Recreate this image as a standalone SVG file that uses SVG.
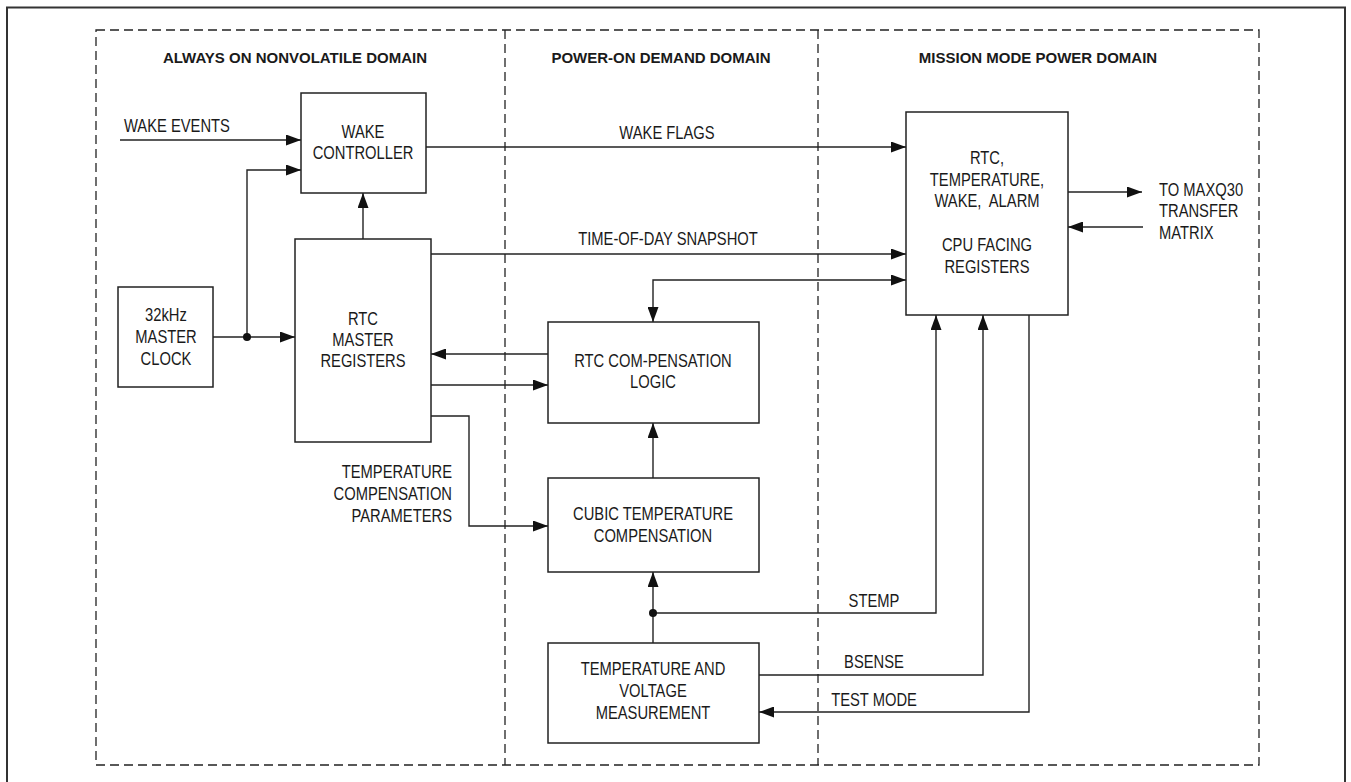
<svg xmlns="http://www.w3.org/2000/svg" width="1351" height="782" viewBox="0 0 1351 782">
<style>
.box{fill:#fff;stroke:#222;stroke-width:1.5}
.ln{fill:none;stroke:#222;stroke-width:1.4}
.dash{fill:none;stroke:#222;stroke-width:1.3;stroke-dasharray:9 5}
.t{font-family:"Liberation Sans",Arial,sans-serif;font-size:18px;fill:#1a1a1a;text-anchor:middle}
.l{font-family:"Liberation Sans",Arial,sans-serif;font-size:18px;fill:#1a1a1a}
.r{font-family:"Liberation Sans",Arial,sans-serif;font-size:18px;fill:#1a1a1a;text-anchor:end}
.h{font-family:"Liberation Sans",Arial,sans-serif;font-size:15px;font-weight:bold;fill:#1a1a1a;text-anchor:middle}
</style>
<defs>
<marker id="arr" markerWidth="15" markerHeight="11" refX="15" refY="5.5" orient="auto-start-reverse" markerUnits="userSpaceOnUse"><path d="M0,0 L15,5.5 L0,11 z" fill="#111"/></marker>
</defs>
<rect width="1351" height="782" fill="#fff"/>
<rect x="7" y="7.5" width="1338" height="790" fill="none" stroke="#333" stroke-width="2"/>
<g id="domains">
<rect class="dash" x="96" y="30" width="1163" height="735"/>
<line class="dash" x1="505" y1="30" x2="505" y2="765"/>
<line class="dash" x1="818" y1="30" x2="818" y2="765"/>
<text class="h" x="295" y="63">ALWAYS ON NONVOLATILE DOMAIN</text>
<text class="h" x="661" y="63">POWER-ON DEMAND DOMAIN</text>
<text class="h" x="1038" y="63">MISSION MODE POWER DOMAIN</text>
</g>
<g id="connectors">
<path class="ln" d="M120,140 H301" marker-end="url(#arr)"/>
<path class="ln" d="M213,337 H295" marker-end="url(#arr)"/>
<path class="ln" d="M247,337 V170 H301" marker-end="url(#arr)"/>
<path class="ln" d="M363,239 V193" marker-end="url(#arr)"/>
<path class="ln" d="M426,147 H906" marker-end="url(#arr)"/>
<path class="ln" d="M431,254 H906" marker-end="url(#arr)"/>
<path class="ln" d="M653,322 V280 H906" marker-start="url(#arr)" marker-end="url(#arr)"/>
<path class="ln" d="M548,354 H431" marker-end="url(#arr)"/>
<path class="ln" d="M431,385 H548" marker-end="url(#arr)"/>
<path class="ln" d="M431,416 H469 V526 H548" marker-end="url(#arr)"/>
<path class="ln" d="M653,478 V423" marker-end="url(#arr)"/>
<path class="ln" d="M653,643 V572" marker-end="url(#arr)"/>
<path class="ln" d="M653,613 H936 V315" marker-end="url(#arr)"/>
<path class="ln" d="M759,675 H983 V315" marker-end="url(#arr)"/>
<path class="ln" d="M1029,315 V712 H759" marker-end="url(#arr)"/>
<path class="ln" d="M1068,192 H1142" marker-end="url(#arr)"/>
<path class="ln" d="M1143,227 H1068" marker-end="url(#arr)"/>
<circle cx="247" cy="337" r="4" fill="#111"/>
<circle cx="653" cy="613" r="4" fill="#111"/>
<text class="l" transform="matrix(0.82 0 0 1 124 0)" x="0" y="132">WAKE EVENTS</text>
<text class="t" transform="matrix(0.82 0 0 1 667 0)" x="0" y="139">WAKE FLAGS</text>
<text class="t" transform="matrix(0.82 0 0 1 668 0)" x="0" y="245">TIME-OF-DAY SNAPSHOT</text>
<text class="t" transform="matrix(0.82 0 0 1 874 0)" x="0" y="607">STEMP</text>
<text class="t" transform="matrix(0.82 0 0 1 874 0)" x="0" y="668">BSENSE</text>
<text class="t" transform="matrix(0.82 0 0 1 874 0)" x="0" y="706">TEST MODE</text>
<text class="r" transform="matrix(0.82 0 0 1 452 0)" x="0" y="478">TEMPERATURE</text>
<text class="r" transform="matrix(0.82 0 0 1 452 0)" x="0" y="500">COMPENSATION</text>
<text class="r" transform="matrix(0.82 0 0 1 452 0)" x="0" y="522">PARAMETERS</text>
<text class="l" transform="matrix(0.82 0 0 1 1159 0)" x="0" y="196">TO MAXQ30</text>
<text class="l" transform="matrix(0.82 0 0 1 1159 0)" x="0" y="217">TRANSFER</text>
<text class="l" transform="matrix(0.82 0 0 1 1159 0)" x="0" y="239">MATRIX</text>
</g>
<g id="wake-controller">
<rect class="box" x="301" y="93" width="125" height="100"/>
<text class="t" transform="matrix(0.82 0 0 1 363 0)" x="0" y="138">WAKE</text>
<text class="t" transform="matrix(0.82 0 0 1 363 0)" x="0" y="159">CONTROLLER</text>
</g>
<g id="master-clock">
<rect class="box" x="118" y="287" width="95" height="100"/>
<text class="t" transform="matrix(0.82 0 0 1 166 0)" x="0" y="321">32kHz</text>
<text class="t" transform="matrix(0.82 0 0 1 166 0)" x="0" y="343">MASTER</text>
<text class="t" transform="matrix(0.82 0 0 1 166 0)" x="0" y="365">CLOCK</text>
</g>
<g id="rtc-master">
<rect class="box" x="295" y="239" width="136" height="203"/>
<text class="t" transform="matrix(0.82 0 0 1 363 0)" x="0" y="325">RTC</text>
<text class="t" transform="matrix(0.82 0 0 1 363 0)" x="0" y="346">MASTER</text>
<text class="t" transform="matrix(0.82 0 0 1 363 0)" x="0" y="367">REGISTERS</text>
</g>
<g id="cpu-registers">
<rect class="box" x="906" y="112" width="162" height="203"/>
<text class="t" transform="matrix(0.82 0 0 1 987 0)" x="0" y="164">RTC,</text>
<text class="t" transform="matrix(0.82 0 0 1 987 0)" x="0" y="186">TEMPERATURE,</text>
<text class="t" transform="matrix(0.82 0 0 1 987 0)" x="0" y="207" xml:space="preserve">WAKE,  ALARM</text>
<text class="t" transform="matrix(0.82 0 0 1 987 0)" x="0" y="251">CPU FACING</text>
<text class="t" transform="matrix(0.82 0 0 1 987 0)" x="0" y="273">REGISTERS</text>
</g>
<g id="rtc-compensation">
<rect class="box" x="548" y="322" width="211" height="101"/>
<text class="t" transform="matrix(0.82 0 0 1 653 0)" x="0" y="367">RTC COM-PENSATION</text>
<text class="t" transform="matrix(0.82 0 0 1 653 0)" x="0" y="388">LOGIC</text>
</g>
<g id="cubic-compensation">
<rect class="box" x="548" y="478" width="211" height="94"/>
<text class="t" transform="matrix(0.82 0 0 1 653 0)" x="0" y="520">CUBIC TEMPERATURE</text>
<text class="t" transform="matrix(0.82 0 0 1 653 0)" x="0" y="542">COMPENSATION</text>
</g>
<g id="measurement">
<rect class="box" x="548" y="643" width="211" height="100"/>
<text class="t" transform="matrix(0.82 0 0 1 653 0)" x="0" y="675">TEMPERATURE AND</text>
<text class="t" transform="matrix(0.82 0 0 1 653 0)" x="0" y="697">VOLTAGE</text>
<text class="t" transform="matrix(0.82 0 0 1 653 0)" x="0" y="719">MEASUREMENT</text>
</g>
</svg>
